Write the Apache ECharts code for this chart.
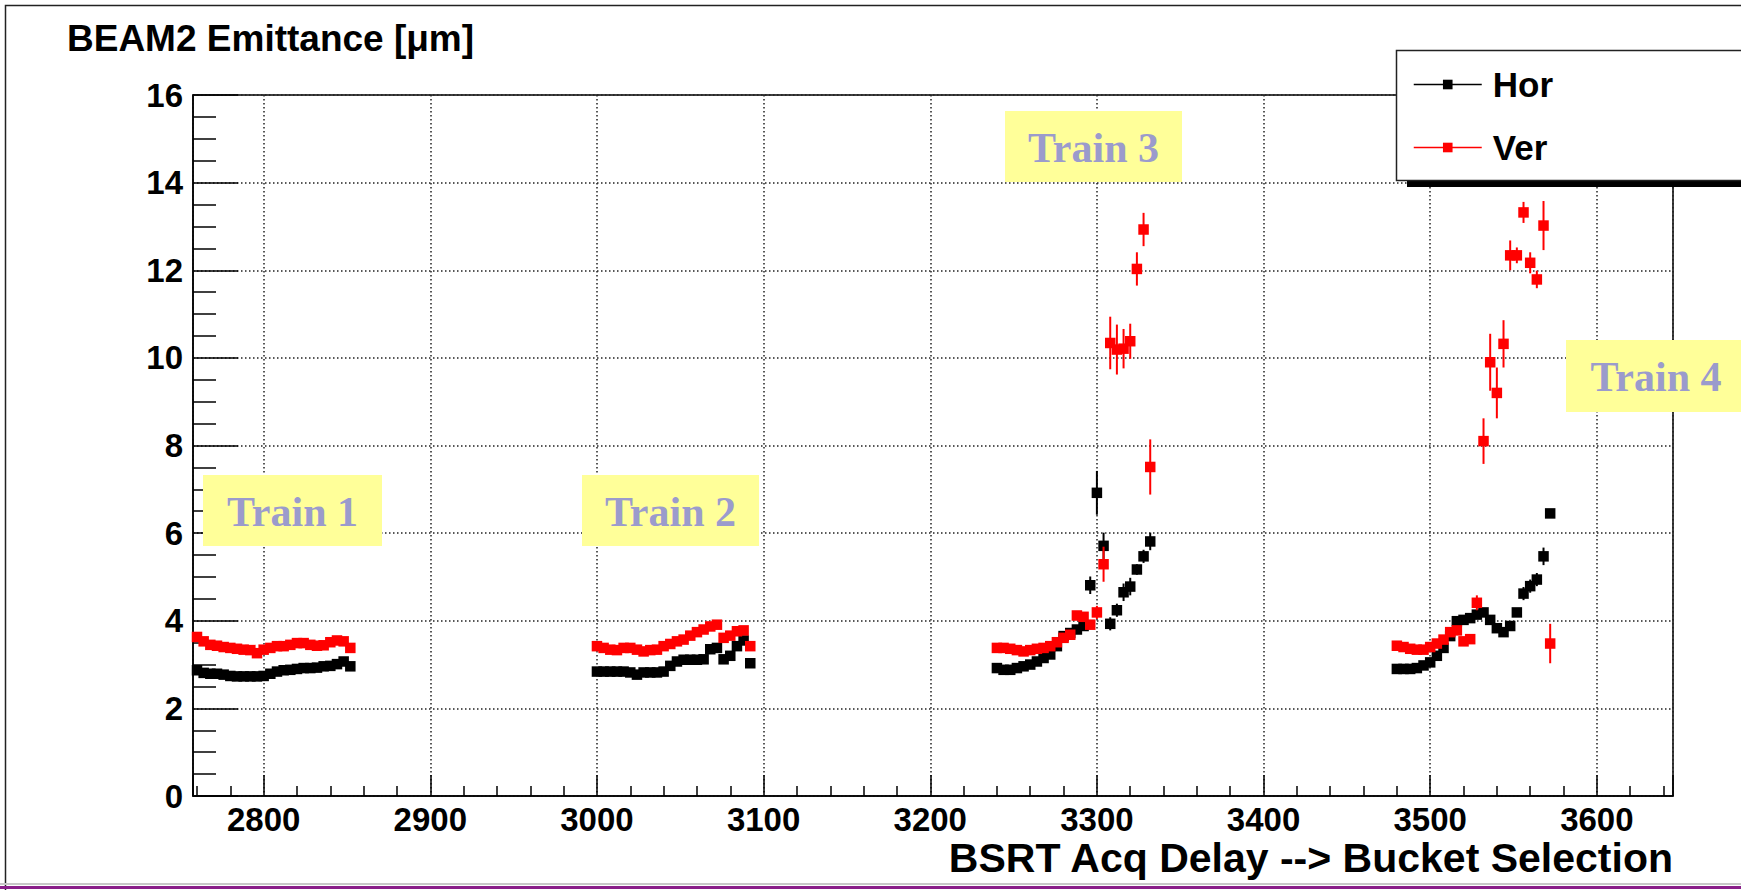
<!DOCTYPE html>
<html>
<head>
<meta charset="utf-8">
<script src="https://cdn.jsdelivr.net/npm/echarts@6/dist/echarts.min.js"></script>
<style>
  html, body { margin: 0; padding: 0; background: #fff; }
  #chart { width: 1741px; height: 890px; }
</style>
</head>
<body>
<div id="chart"></div>
<script>
// BSRT acquisition delay of each measured bucket, one array per train
const delaysT1 = [2760, 2764, 2768, 2772, 2776, 2780, 2784, 2788, 2792, 2796, 2800, 2804,
                  2808, 2812, 2816, 2820, 2824, 2828, 2832, 2836, 2840, 2844, 2848, 2852];
const delaysT2 = [3000, 3004, 3008, 3012, 3016, 3020, 3024, 3028, 3032, 3036, 3040, 3044,
                  3048, 3052, 3056, 3060, 3064, 3068, 3072, 3076, 3080, 3084, 3088, 3092];
const delaysT3 = [3240, 3244, 3248, 3252, 3256, 3260, 3264, 3268, 3272, 3276, 3280, 3284,
                  3288, 3292, 3296, 3300, 3304, 3308, 3312, 3316, 3320, 3324, 3328, 3332];
const delaysT4 = [3480, 3484, 3488, 3492, 3496, 3500, 3504, 3508, 3512, 3516, 3520, 3524,
                  3528, 3532, 3536, 3540, 3544, 3548, 3552, 3556, 3560, 3564, 3568, 3572];

// Horizontal emittance [um]
const horT1 = [2.87, 2.81, 2.79, 2.79, 2.77, 2.74, 2.73, 2.73, 2.73, 2.73, 2.74, 2.79,
               2.84, 2.87, 2.88, 2.90, 2.92, 2.92, 2.93, 2.96, 2.97, 3.01, 3.07, 2.96];
const horT2 = [2.84, 2.84, 2.84, 2.84, 2.84, 2.82, 2.77, 2.82, 2.82, 2.82, 2.84, 2.97,
               3.07, 3.11, 3.11, 3.11, 3.12, 3.35, 3.38, 3.12, 3.20, 3.42, 3.55, 3.03];
const horT3 = [2.92, 2.88, 2.88, 2.92, 2.96, 3.00, 3.07, 3.15, 3.23, 3.42, 3.65, 3.72,
               3.80, 3.88, 4.81, 6.92, 5.71, 3.93, 4.24, 4.65, 4.78, 5.17, 5.47, 5.81];
const horT4 = [2.90, 2.90, 2.90, 2.92, 2.98, 3.05, 3.20, 3.38, 3.65, 3.99, 4.02, 4.06,
               4.14, 4.19, 4.02, 3.83, 3.74, 3.88, 4.19, 4.62, 4.79, 4.94, 5.47, 6.45];

// Vertical emittance [um]
const verT1 = [3.63, 3.53, 3.45, 3.43, 3.40, 3.38, 3.36, 3.34, 3.33, 3.26, 3.34, 3.38,
               3.42, 3.42, 3.45, 3.49, 3.49, 3.45, 3.43, 3.44, 3.51, 3.55, 3.53, 3.38];
const verT2 = [3.42, 3.38, 3.34, 3.33, 3.38, 3.38, 3.34, 3.30, 3.33, 3.34, 3.42, 3.47,
               3.53, 3.57, 3.66, 3.74, 3.80, 3.87, 3.91, 3.61, 3.66, 3.76, 3.78, 3.42];
const verT3 = [3.38, 3.38, 3.36, 3.33, 3.30, 3.33, 3.36, 3.38, 3.42, 3.51, 3.61, 3.68,
               4.12, 4.09, 3.91, 4.19, 5.29, 10.34, 10.19, 10.21, 10.38, 12.03, 12.93, 7.51];
const verT4 = [3.43, 3.40, 3.36, 3.34, 3.34, 3.40, 3.48, 3.57, 3.74, 3.78, 3.53, 3.58,
               4.41, 8.10, 9.90, 9.20, 10.32, 12.34, 12.34, 13.32, 12.17, 11.79, 13.02, 3.48];

// Statistical errors on each emittance value [um]
const errHorT1 = [0.05, 0.05, 0.05, 0.05, 0.05, 0.05, 0.05, 0.05, 0.05, 0.05, 0.05, 0.05,
                  0.05, 0.05, 0.05, 0.05, 0.05, 0.05, 0.05, 0.05, 0.05, 0.05, 0.06, 0.06];
const errHorT2 = [0.05, 0.05, 0.05, 0.05, 0.05, 0.05, 0.05, 0.05, 0.05, 0.05, 0.05, 0.05,
                  0.05, 0.05, 0.05, 0.05, 0.05, 0.07, 0.07, 0.07, 0.07, 0.08, 0.08, 0.06];
const errHorT3 = [0.04, 0.04, 0.04, 0.04, 0.04, 0.04, 0.04, 0.05, 0.05, 0.05, 0.05, 0.05,
                  0.06, 0.08, 0.20, 0.50, 0.30, 0.15, 0.15, 0.20, 0.20, 0.12, 0.15, 0.20];
const errHorT4 = [0.04, 0.04, 0.04, 0.04, 0.04, 0.04, 0.05, 0.05, 0.05, 0.05, 0.05, 0.05,
                  0.05, 0.06, 0.06, 0.06, 0.06, 0.08, 0.10, 0.15, 0.15, 0.15, 0.20, 0.08];
const errVerT1 = [0.05, 0.05, 0.05, 0.05, 0.05, 0.05, 0.05, 0.05, 0.05, 0.05, 0.05, 0.05,
                  0.05, 0.05, 0.05, 0.05, 0.05, 0.05, 0.05, 0.05, 0.05, 0.05, 0.05, 0.05];
const errVerT2 = [0.05, 0.05, 0.05, 0.05, 0.05, 0.05, 0.05, 0.05, 0.05, 0.05, 0.05, 0.05,
                  0.05, 0.05, 0.05, 0.05, 0.05, 0.05, 0.06, 0.06, 0.06, 0.06, 0.06, 0.06];
const errVerT3 = [0.05, 0.05, 0.05, 0.05, 0.05, 0.05, 0.05, 0.05, 0.05, 0.05, 0.05, 0.05,
                  0.10, 0.10, 0.10, 0.15, 0.40, 0.60, 0.57, 0.45, 0.40, 0.38, 0.38, 0.63];
const errVerT4 = [0.05, 0.05, 0.05, 0.05, 0.05, 0.05, 0.05, 0.05, 0.05, 0.05, 0.06, 0.08,
                  0.17, 0.52, 0.65, 0.58, 0.54, 0.34, 0.18, 0.24, 0.24, 0.20, 0.56, 0.45];

const trainLabels = ['Train 1', 'Train 2', 'Train 3', 'Train 4'];
const yTickLabels = ['0', '2', '4', '6', '8', '10', '12', '14', '16'];
const xTickLabels = ['2800', '2900', '3000', '3100', '3200', '3300', '3400', '3500', '3600'];

const FONT = '"Liberation Sans", Arial, Helvetica, sans-serif';
const SERIF = '"Liberation Serif", "Times New Roman", serif';

// Join the trains into [delay, value, error] rows
function rows(delays, values, errors) {
  const out = [];
  for (let t = 0; t < delays.length; t++) {
    for (let i = 0; i < delays[t].length; i++) {
      out.push([delays[t][i], values[t][i], errors[t][i]]);
    }
  }
  return out;
}
const allDelays = [delaysT1, delaysT2, delaysT3, delaysT4];
const horRows = rows(allDelays, [horT1, horT2, horT3, horT4], [errHorT1, errHorT2, errHorT3, errHorT4]);
const verRows = rows(allDelays, [verT1, verT2, verT3, verT4], [errVerT1, errVerT2, errVerT3, errVerT4]);

function errorBars(color) {
  return function (params, api) {
    const x = api.value(0), y = api.value(1), e = api.value(2);
    const lo = api.coord([x, y - e]);
    const hi = api.coord([x, y + e]);
    return {
      type: 'line',
      shape: { x1: lo[0], y1: lo[1], x2: hi[0], y2: hi[1] },
      style: { stroke: color, lineWidth: 2 }
    };
  };
}

// Yellow note boxes naming each train
function trainBox(label, x, y, w, h) {
  return {
    type: 'group', x: x, y: y, z: 10,
    children: [
      { type: 'rect', z: 10, shape: { x: 0, y: 0, width: w, height: h },
        style: { fill: '#ffff99', stroke: null } },
      { type: 'text', z: 11, x: w / 2, y: h / 2 + 1,
        style: { text: label, fill: '#9b9bcc', font: 'bold 42px ' + SERIF,
                 textAlign: 'center', textVerticalAlign: 'middle' } }
    ]
  };
}

const chart = echarts.init(document.getElementById('chart'), null, { renderer: 'svg' });

chart.setOption({
  animation: false,
  backgroundColor: '#ffffff',
  title: {
    text: 'BEAM2 Emittance [\u03bcm]',
    left: 62, top: 15,
    textStyle: { fontFamily: FONT, fontWeight: 'bold', fontSize: 37, color: '#000' }
  },
  grid: {
    left: 193, right: 68, top: 95, bottom: 94,
    show: true, borderColor: '#000', borderWidth: 1.5, backgroundColor: 'transparent'
  },
  legend: {
    data: ['Hor', 'Ver'],
    orient: 'vertical',
    left: 1408, top: 62,
    itemWidth: 68, itemHeight: 12, itemGap: 28,
    lineStyle: { width: 1.5, opacity: 1 },
    textStyle: { fontFamily: FONT, fontWeight: 'bold', fontSize: 35, color: '#000', padding: [0, 0, 0, 6] },
    z: 20
  },
  xAxis: {
    type: 'value',
    min: 2757.6, max: 3645.7,
    splitNumber: 9,
    name: 'BSRT Acq Delay --> Bucket Selection',
    nameLocation: 'end', nameGap: 0,
    nameTextStyle: { fontFamily: FONT, fontWeight: 'bold', fontSize: 41, color: '#000',
                     align: 'right', verticalAlign: 'top', padding: [41, 0, 0, 0] },
    axisLine: { show: true, onZero: false, lineStyle: { color: '#000', width: 1.5 } },
    axisTick: { show: true, inside: true, length: 21, lineStyle: { color: '#000', width: 1.5 } },
    minorTick: { show: true, splitNumber: 5, length: 10, lineStyle: { color: '#000', width: 1.5 } },
    axisLabel: {
      margin: 7, fontFamily: FONT, fontWeight: 'bold', fontSize: 33, color: '#000',
      formatter: v => (xTickLabels.indexOf(String(Math.round(v))) >= 0 && Math.abs(v - Math.round(v)) < 1e-6 ? String(Math.round(v)) : '')
    },
    splitLine: { show: true, lineStyle: { color: '#222', width: 1.5, type: [1.5, 2.5] } }
  },
  yAxis: {
    type: 'value',
    min: 0, max: 16, interval: 2,
    axisLine: { show: true, onZero: false, lineStyle: { color: '#000', width: 1.5 } },
    axisTick: { show: true, inside: true, length: 45, lineStyle: { color: '#000', width: 1.5 } },
    minorTick: { show: true, splitNumber: 4, length: 23, lineStyle: { color: '#000', width: 1.5 } },
    axisLabel: {
      margin: 10, fontFamily: FONT, fontWeight: 'bold', fontSize: 33, color: '#000',
      formatter: v => yTickLabels[Math.round(v / 2)]
    },
    splitLine: { show: true, lineStyle: { color: '#222', width: 1.5, type: [1.5, 2.5] } }
  },
  graphic: [
    // outer pad frame
    { type: 'rect', z: 1, shape: { x: 5.5, y: 5.5, width: 1800, height: 1000 },
      style: { fill: null, stroke: '#222', lineWidth: 1.5 } },
    // legend box with its drop shadow
    { type: 'rect', z: 9, shape: { x: 1407, y: 180, width: 400, height: 7 },
      style: { fill: '#000' } },
    { type: 'rect', z: 10, shape: { x: 1396.5, y: 50.5, width: 400, height: 130 },
      style: { fill: '#fff', stroke: '#222', lineWidth: 1.5 } },
    trainBox(trainLabels[0], 203, 475, 179, 71),
    trainBox(trainLabels[1], 582, 475, 177, 71),
    trainBox(trainLabels[2], 1005, 111, 177, 71),
    trainBox(trainLabels[3], 1566, 340, 180, 72),
    // bottom edge lines
    { type: 'rect', z: 1, shape: { x: 0, y: 883, width: 1741, height: 2 }, style: { fill: '#c8c8c8' } },
    { type: 'rect', z: 1, shape: { x: 0, y: 886, width: 1741, height: 3 }, style: { fill: '#8a1f8a' } }
  ],
  series: [
    {
      name: 'Hor errors', type: 'custom', data: horRows,
      encode: { x: 0, y: 1 }, renderItem: errorBars('#000'), z: 2
    },
    {
      name: 'Hor', type: 'line', data: horRows.map(r => [r[0], r[1]]),
      symbol: 'rect', symbolSize: 10.5, showSymbol: true, showAllSymbol: true,
      itemStyle: { color: '#000' },
      lineStyle: { width: 0, color: '#000' },
      emphasis: { disabled: true }, z: 3
    },
    {
      name: 'Ver errors', type: 'custom', data: verRows,
      encode: { x: 0, y: 1 }, renderItem: errorBars('#ff0000'), z: 4
    },
    {
      name: 'Ver', type: 'line', data: verRows.map(r => [r[0], r[1]]),
      symbol: 'rect', symbolSize: 10.5, showSymbol: true, showAllSymbol: true,
      itemStyle: { color: '#ff0000' },
      lineStyle: { width: 0, color: '#ff0000' },
      emphasis: { disabled: true }, z: 5
    }
  ]
});
</script>
</body>
</html>
